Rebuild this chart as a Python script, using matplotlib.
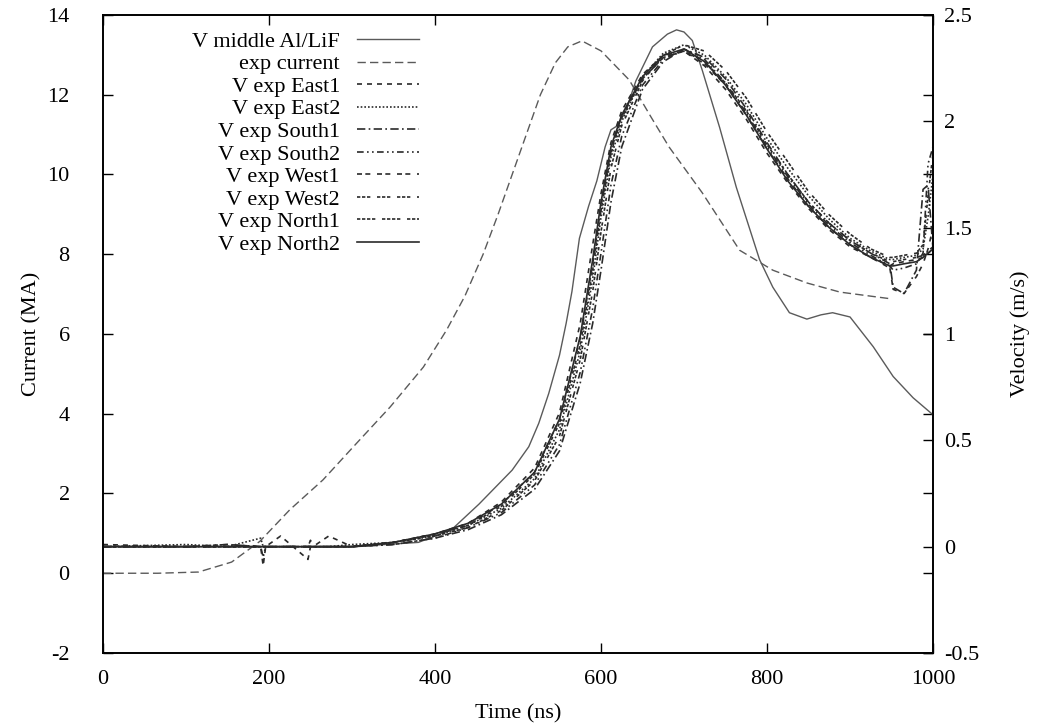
import numpy as np
import matplotlib
matplotlib.use("Agg")
import matplotlib.pyplot as plt

plt.rcParams['font.family'] = ['Liberation Serif', 'DejaVu Serif']
plt.rcParams['font.size'] = 16
plt.rcParams['axes.unicode_minus'] = False

# ---- data ----
# simulated velocity, middle of the Al/LiF sample (m/s)
t_sim = [0, 300, 380, 420, 453, 473, 493, 513, 525, 537, 550, 558, 565, 574, 585, 595, 605, 612, 620, 630,
         642, 662, 680, 691, 700, 710, 722, 743, 763, 791, 807, 827, 848, 865, 879, 900, 928, 952, 976, 1000]
v_sim = [0.0, 0.0, 0.02, 0.08, 0.20, 0.28, 0.36, 0.47, 0.58, 0.72, 0.90, 1.05, 1.20, 1.45, 1.60, 1.72, 1.88, 1.96, 1.98, 2.05,
         2.19, 2.35, 2.41, 2.43, 2.42, 2.38, 2.24, 1.97, 1.69, 1.35, 1.22, 1.10, 1.07, 1.09, 1.10, 1.08, 0.94, 0.80, 0.70, 0.62]

# measured current (MA)
t_cur = [0, 66, 115, 155, 189, 225, 265, 306, 346, 386, 414, 436, 458, 476, 493, 510, 527, 545, 560, 577,
         600, 634, 660, 682, 722, 767, 807, 848, 888, 950]
i_cur = [0.0, 0.0, 0.03, 0.28, 0.80, 1.59, 2.34, 3.27, 4.17, 5.17, 6.10, 6.95, 8.0, 9.0, 10.0, 11.0, 12.0, 12.8, 13.2, 13.35,
         13.1, 12.37, 11.45, 10.69, 9.54, 8.10, 7.60, 7.28, 7.05, 6.88]

# measured velocities (m/s), common time grid
t_exp = [0, 100, 150, 190, 193, 196, 214, 247, 250, 253, 272, 300, 350, 400, 440, 480, 520, 550, 575, 590,
         600, 612, 625, 650, 675, 700, 725, 750, 775, 800, 825, 850, 875, 900, 925, 948, 952, 965, 980, 988, 994, 1000]
v_east1 = [0.01, 0.0, 0.01, 0.0, -0.09, 0.0, 0.05, -0.06, 0.0, 0.0, 0.05, 0.0, 0.02,
           0.06, 0.11, 0.21, 0.37, 0.63, 1.05, 1.42, 1.66, 1.90, 2.05, 2.22, 2.31, 2.33, 2.26, 2.15, 2.01, 1.85,
           1.71, 1.59, 1.49, 1.41, 1.36, 1.32, 1.33, 1.34, 1.35, 1.36, 1.38, 1.40]
v_east2 = [0.0, 0.01, 0.0, 0.04, 0.0, 0.0, 0.0, 0.0, 0.0, 0.0, 0.0, 0.01, 0.02,
           0.05, 0.10, 0.18, 0.32, 0.55, 0.92, 1.26, 1.55, 1.83, 2.00, 2.21, 2.32, 2.36, 2.31, 2.21, 2.08, 1.92,
           1.78, 1.65, 1.54, 1.45, 1.39, 1.35, 1.35, 1.36, 1.37, 1.40, 1.55, 1.75]
v_south1 = [0.0, 0.0, 0.01, 0.0, 0.0, 0.0, 0.0, 0.0, 0.0, 0.0, 0.0, 0.0, 0.01,
            0.04, 0.08, 0.15, 0.27, 0.45, 0.77, 1.05, 1.30, 1.62, 1.88, 2.15, 2.28, 2.34, 2.30, 2.20, 2.06, 1.90,
            1.75, 1.62, 1.52, 1.44, 1.38, 1.33, 1.22, 1.19, 1.30, 1.68, 1.70, 1.40]
v_south2 = [0.0, 0.0, 0.0, 0.0, -0.05, 0.0, 0.0, 0.0, 0.0, 0.0, 0.0, 0.0, 0.01,
            0.04, 0.09, 0.16, 0.29, 0.48, 0.82, 1.12, 1.38, 1.70, 1.93, 2.17, 2.29, 2.34, 2.29, 2.18, 2.04, 1.88,
            1.74, 1.61, 1.51, 1.43, 1.37, 1.32, 1.30, 1.31, 1.33, 1.38, 1.80, 1.88]
v_west1 = [0.0, 0.0, 0.0, 0.0, 0.0, 0.0, 0.0, 0.0, 0.03, 0.0, 0.0, 0.0, 0.02,
           0.06, 0.10, 0.20, 0.35, 0.60, 0.98, 1.33, 1.60, 1.86, 2.03, 2.20, 2.30, 2.33, 2.27, 2.17, 2.03, 1.87,
           1.73, 1.60, 1.50, 1.42, 1.36, 1.31, 1.21, 1.19, 1.27, 1.33, 1.40, 1.50]
v_west2 = [0.0, 0.0, 0.0, 0.0, 0.0, 0.0, 0.0, 0.0, 0.0, 0.0, 0.0, 0.0, 0.02,
           0.055, 0.10, 0.19, 0.34, 0.58, 0.95, 1.30, 1.58, 1.85, 2.02, 2.20, 2.30, 2.33, 2.28, 2.18, 2.05, 1.89,
           1.75, 1.62, 1.52, 1.44, 1.38, 1.34, 1.34, 1.35, 1.36, 1.37, 1.39, 1.41]
v_north1 = [0.0, 0.0, 0.0, 0.0, 0.0, 0.0, 0.0, 0.0, 0.0, 0.0, 0.0, 0.0, 0.02,
            0.05, 0.09, 0.17, 0.31, 0.52, 0.88, 1.20, 1.48, 1.78, 1.98, 2.19, 2.31, 2.36, 2.33, 2.24, 2.11, 1.95,
            1.81, 1.67, 1.56, 1.47, 1.40, 1.36, 1.36, 1.37, 1.38, 1.42, 1.65, 1.85]
v_north2 = [0.0, 0.0, 0.0, 0.0, 0.0, 0.0, 0.0, 0.0, 0.0, 0.0, 0.0, 0.0, 0.02,
            0.06, 0.11, 0.20, 0.35, 0.60, 0.99, 1.35, 1.62, 1.88, 2.03, 2.21, 2.31, 2.34, 2.28, 2.17, 2.03, 1.87,
            1.72, 1.60, 1.50, 1.42, 1.36, 1.32, 1.32, 1.33, 1.34, 1.36, 1.38, 1.40]

exp_labels = ["V exp East1", "V exp East2", "V exp South1", "V exp South2",
              "V exp West1", "V exp West2", "V exp North1", "V exp North2"]
exp_data = [v_east1, v_east2, v_south1, v_south2, v_west1, v_west2, v_north1, v_north2]
exp_dashes = [(0, (3, 3)), (0, (1, 1.2)), (0, (5, 2, 1, 2)), (0, (4, 2, 1, 2, 1, 2)),
              (0, (3, 2, 3, 4)), (0, (2, 1, 2, 1, 2, 4)), (0, (2, 1, 2, 1, 2, 1, 2, 4)), '-']

# ---- figure ----
fig = plt.figure(figsize=(10.39, 7.27), dpi=100)
ax = fig.add_axes([0.0991, 0.1018, 0.7989, 0.8776])
ax2 = ax.twinx()

handles = []
h, = ax2.plot(t_sim, v_sim, color='#5a5a5a', lw=1.0, ls='-', label="V middle Al/LiF")
handles.append(h)
h, = ax.plot(t_cur, i_cur, color='#5a5a5a', lw=1.0, ls=(0, (6, 3)), label="exp current")
handles.append(h)
for lab, v, d in zip(exp_labels, exp_data, exp_dashes):
    h, = ax2.plot(t_exp, v, color='#2a2a2a', lw=1.2, ls=d, label=lab)
    handles.append(h)

ax.set_xlim(0, 1000)
ax.set_ylim(-2, 14)
ax2.set_ylim(-0.5, 2.5)
ax.set_xticks(np.arange(0, 1001, 200))
ax.set_yticks(np.arange(-2, 15, 2))
ax2.set_yticks(np.arange(-0.5, 2.6, 0.5))
ax2.set_yticklabels(["-0.5", "0", "0.5", "1", "1.5", "2", "2.5"])

ax.tick_params(axis='x', direction='in', length=7, width=1, top=True, pad=12)
ax.tick_params(axis='y', direction='in', length=7, width=1, right=True, pad=24)
ax2.tick_params(axis='y', direction='in', length=7, width=1, pad=8)
for a in (ax, ax2):
    for s in a.spines.values():
        s.set_linewidth(1.2)

ax.set_xlabel("Time (ns)", labelpad=11)
ax.set_ylabel("Current (MA)", labelpad=4)
ax2.set_ylabel("Velocity (m/s)", labelpad=22)

leg = ax2.legend(handles, [hh.get_label() for hh in handles], loc='upper right',
                 bbox_to_anchor=(0.394, 0.992), frameon=False, markerfirst=False,
                 borderpad=0, labelspacing=0.09, handlelength=2.8, handletextpad=0.75,
                 fontsize=16)

fig.savefig("out.png", dpi=100)
